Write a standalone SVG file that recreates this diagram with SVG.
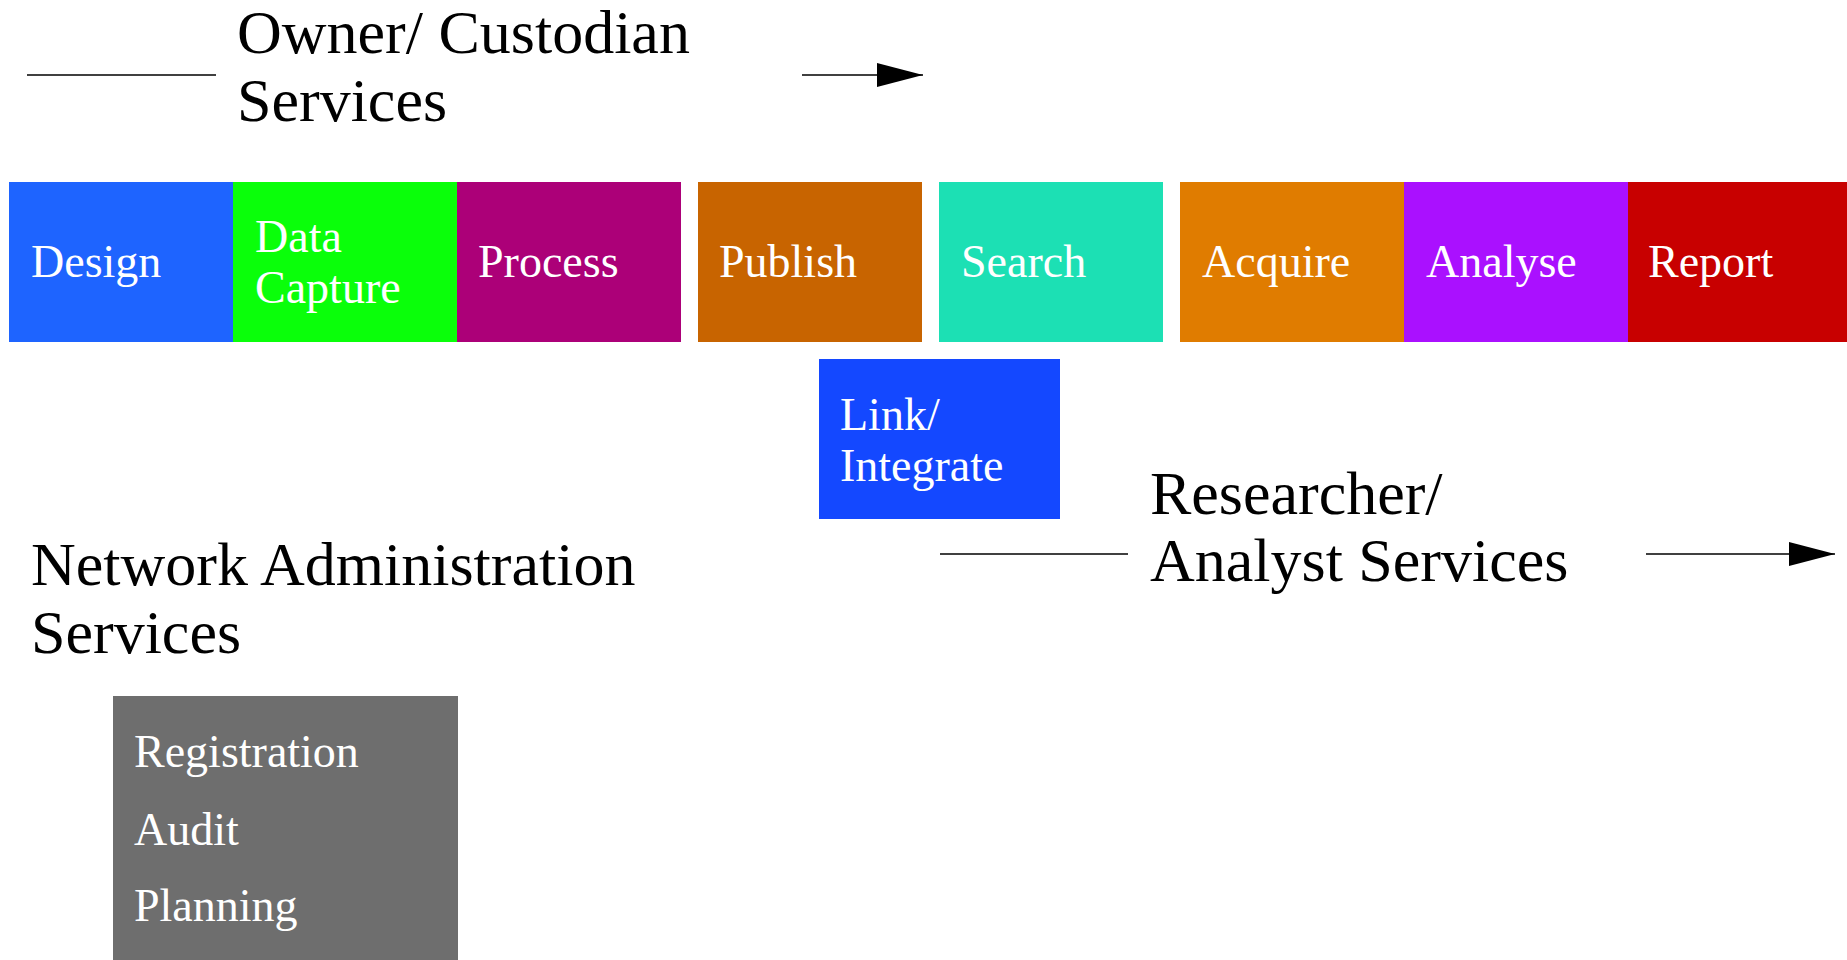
<svg xmlns="http://www.w3.org/2000/svg" width="1847" height="960" viewBox="0 0 1847 960">
<defs>
<style>
.box text{font-family:"Liberation Serif","Times New Roman",serif;font-size:46px;fill:#ffffff}
.title{font-family:"Liberation Serif","Times New Roman",serif;font-size:62px;fill:#000000}
.conn line{stroke:#000000;stroke-width:1.5;fill:none}
</style>
<marker id="arr" viewBox="0 0 46 24" refX="46" refY="12" markerWidth="46" markerHeight="24" markerUnits="userSpaceOnUse" orient="auto">
<path d="M0,0 L46,12 L0,24 Z" fill="#000000"/>
</marker>
</defs>
<rect width="1847" height="960" fill="#ffffff"/>
<g id="owner-label"><text class="title" x="237" y="53">Owner/ Custodian</text><text class="title" x="237" y="121">Services</text></g>
<g id="researcher-label"><text class="title" x="1150" y="514">Researcher/</text><text class="title" x="1150" y="581">Analyst Services</text></g>
<g id="network-label"><text class="title" x="31" y="585">Network Administration</text><text class="title" x="31" y="653">Services</text></g>
<g class="conn" id="connectors">
<line x1="27" y1="75" x2="216" y2="75"/>
<line x1="802" y1="75" x2="923" y2="75" marker-end="url(#arr)"/>
<line x1="940" y1="554" x2="1128" y2="554" stroke="#555"/>
<line x1="1646" y1="554" x2="1835" y2="554" marker-end="url(#arr)"/>
</g>
<g class="box" id="design"><rect x="9" y="182" width="224" height="160" fill="#1e64ff"/><text x="31" y="277">Design</text></g>
<g class="box" id="data-capture"><rect x="233" y="182" width="224" height="160" fill="#0aff0a"/><text x="255" y="252">Data</text><text x="255" y="303">Capture</text></g>
<g class="box" id="process"><rect x="457" y="182" width="224" height="160" fill="#ac0078"/><text x="478" y="277">Process</text></g>
<g class="box" id="publish"><rect x="698" y="182" width="224" height="160" fill="#c86400"/><text x="719" y="277">Publish</text></g>
<g class="box" id="search"><rect x="939" y="182" width="224" height="160" fill="#1ce0b4"/><text x="961" y="277">Search</text></g>
<g class="box" id="acquire"><rect x="1180" y="182" width="224" height="160" fill="#e07c00"/><text x="1202" y="277">Acquire</text></g>
<g class="box" id="analyse"><rect x="1404" y="182" width="224" height="160" fill="#aa10ff"/><text x="1426" y="277">Analyse</text></g>
<g class="box" id="report"><rect x="1628" y="182" width="224" height="160" fill="#c80000"/><text x="1648" y="277">Report</text></g>
<g class="box" id="link-integrate"><rect x="819" y="359" width="241" height="160" fill="#1448ff"/><text x="840" y="430">Link/</text><text x="840" y="481">Integrate</text></g>
<g class="box" id="network-admin"><rect x="113" y="696" width="345" height="264" fill="#6e6e6e"/><text x="134" y="767">Registration</text><text x="134" y="845">Audit</text><text x="134" y="921">Planning</text></g>
</svg>
